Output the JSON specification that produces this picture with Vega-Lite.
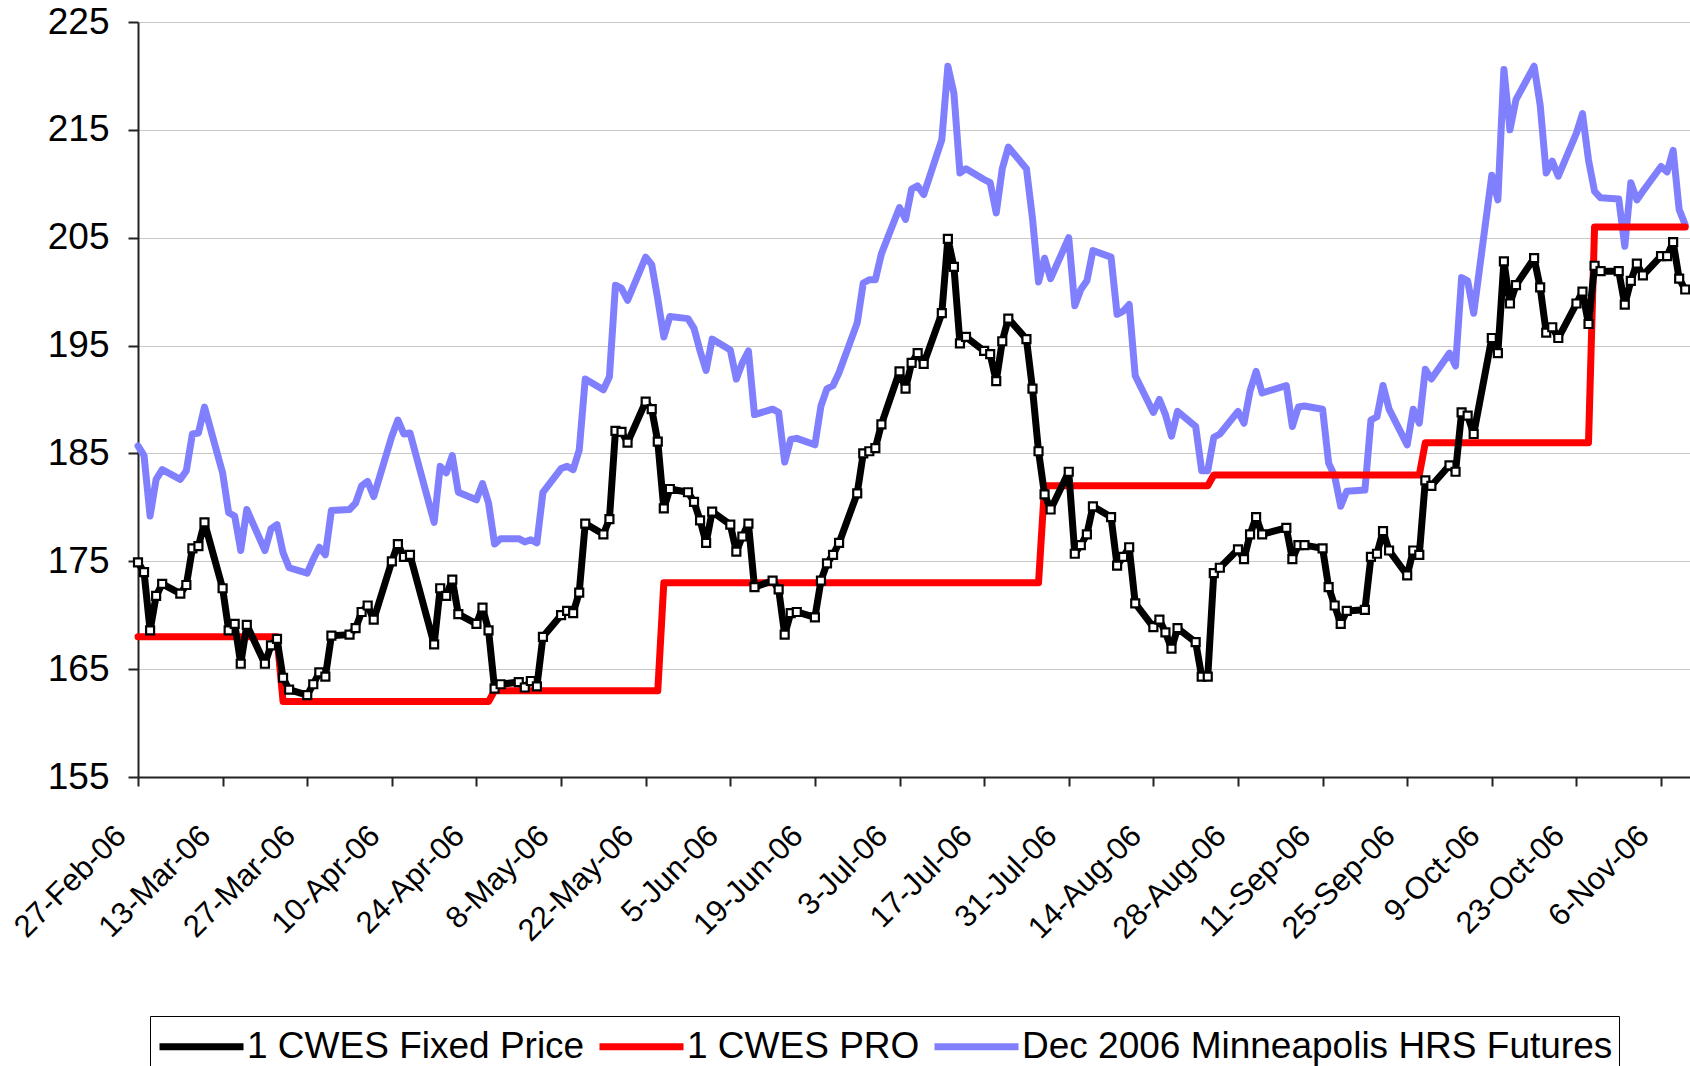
{
"$schema":"https://vega.github.io/schema/vega-lite/v6.json",
"width":1552,"height":755,
"autosize":{"type":"none"},
"padding":{"left":138,"top":22,"right":0,"bottom":289},
"background":"white",
"config":{"view":{"stroke":null},"font":"Liberation Sans"},
"data":{"values":[
{"d":"2006-02-27","fixed":174.9,"pro":168,"futures":185.7},
{"d":"2006-02-28","fixed":174.0,"pro":168,"futures":184.8},
{"d":"2006-03-01","fixed":168.6,"pro":168,"futures":179.2},
{"d":"2006-03-02","fixed":171.8,"pro":168,"futures":182.6},
{"d":"2006-03-03","fixed":172.9,"pro":168,"futures":183.5},
{"d":"2006-03-06","fixed":172.0,"pro":168,"futures":182.6},
{"d":"2006-03-07","fixed":172.8,"pro":168,"futures":183.4},
{"d":"2006-03-08","fixed":176.2,"pro":168,"futures":186.8},
{"d":"2006-03-09","fixed":176.4,"pro":168,"futures":186.9},
{"d":"2006-03-10","fixed":178.6,"pro":168,"futures":189.3},
{"d":"2006-03-13","fixed":172.5,"pro":168,"futures":183.2},
{"d":"2006-03-14","fixed":168.6,"pro":168,"futures":179.5},
{"d":"2006-03-15","fixed":169.2,"pro":168,"futures":179.2},
{"d":"2006-03-16","fixed":165.5,"pro":168,"futures":176.0},
{"d":"2006-03-17","fixed":169.1,"pro":168,"futures":179.8},
{"d":"2006-03-20","fixed":165.5,"pro":168,"futures":176.0},
{"d":"2006-03-21","fixed":167.2,"pro":168,"futures":178.0},
{"d":"2006-03-22","fixed":167.8,"pro":168,"futures":178.4},
{"d":"2006-03-23","fixed":164.2,"pro":162,"futures":175.8},
{"d":"2006-03-24","fixed":163.1,"pro":162,"futures":174.4},
{"d":"2006-03-27","fixed":162.6,"pro":162,"futures":173.9},
{"d":"2006-03-28","fixed":163.6,"pro":162,"futures":175.2},
{"d":"2006-03-29","fixed":164.7,"pro":162,"futures":176.3},
{"d":"2006-03-30","fixed":164.3,"pro":162,"futures":175.6},
{"d":"2006-03-31","fixed":168.1,"pro":162,"futures":179.7},
{"d":"2006-04-03","fixed":168.2,"pro":162,"futures":179.8},
{"d":"2006-04-04","fixed":168.8,"pro":162,"futures":180.4},
{"d":"2006-04-05","fixed":170.3,"pro":162,"futures":182.0},
{"d":"2006-04-06","fixed":170.9,"pro":162,"futures":182.4},
{"d":"2006-04-07","fixed":169.6,"pro":162,"futures":181.0},
{"d":"2006-04-10","fixed":175.0,"pro":162,"futures":186.6},
{"d":"2006-04-11","fixed":176.6,"pro":162,"futures":188.1},
{"d":"2006-04-12","fixed":175.4,"pro":162,"futures":186.8},
{"d":"2006-04-13","fixed":175.6,"pro":162,"futures":186.9},
{"d":"2006-04-17","fixed":167.3,"pro":162,"futures":178.6},
{"d":"2006-04-18","fixed":172.5,"pro":162,"futures":183.8},
{"d":"2006-04-19","fixed":171.8,"pro":162,"futures":183.2},
{"d":"2006-04-20","fixed":173.3,"pro":162,"futures":184.8},
{"d":"2006-04-21","fixed":170.1,"pro":162,"futures":181.4},
{"d":"2006-04-24","fixed":169.2,"pro":162,"futures":180.7},
{"d":"2006-04-25","fixed":170.7,"pro":162,"futures":182.2},
{"d":"2006-04-26","fixed":168.6,"pro":162,"futures":180.4},
{"d":"2006-04-27","fixed":163.2,"pro":163,"futures":176.6},
{"d":"2006-04-28","fixed":163.6,"pro":163,"futures":177.1},
{"d":"2006-05-01","fixed":163.8,"pro":163,"futures":177.1},
{"d":"2006-05-02","fixed":163.3,"pro":163,"futures":176.8},
{"d":"2006-05-03","fixed":163.9,"pro":163,"futures":177.0},
{"d":"2006-05-04","fixed":163.4,"pro":163,"futures":176.7},
{"d":"2006-05-05","fixed":168.0,"pro":163,"futures":181.4},
{"d":"2006-05-08","fixed":170.0,"pro":163,"futures":183.6},
{"d":"2006-05-09","fixed":170.4,"pro":163,"futures":183.8},
{"d":"2006-05-10","fixed":170.2,"pro":163,"futures":183.5},
{"d":"2006-05-11","fixed":172.1,"pro":163,"futures":185.3},
{"d":"2006-05-12","fixed":178.5,"pro":163,"futures":191.9},
{"d":"2006-05-15","fixed":177.5,"pro":163,"futures":190.9},
{"d":"2006-05-16","fixed":178.9,"pro":163,"futures":192.1},
{"d":"2006-05-17","fixed":187.1,"pro":163,"futures":200.6},
{"d":"2006-05-18","fixed":187.0,"pro":163,"futures":200.3},
{"d":"2006-05-19","fixed":186.0,"pro":163,"futures":199.2},
{"d":"2006-05-22","fixed":189.8,"pro":163,"futures":203.2},
{"d":"2006-05-23","fixed":189.1,"pro":163,"futures":202.5},
{"d":"2006-05-24","fixed":186.1,"pro":163,"futures":199.3},
{"d":"2006-05-25","fixed":179.9,"pro":173,"futures":195.8},
{"d":"2006-05-26","fixed":181.7,"pro":173,"futures":197.7},
{"d":"2006-05-29","fixed":181.4,"pro":173,"futures":197.5},
{"d":"2006-05-30","fixed":180.5,"pro":173,"futures":196.6},
{"d":"2006-05-31","fixed":178.8,"pro":173,"futures":194.5},
{"d":"2006-06-01","fixed":176.7,"pro":173,"futures":192.7},
{"d":"2006-06-02","fixed":179.6,"pro":173,"futures":195.6},
{"d":"2006-06-05","fixed":178.4,"pro":173,"futures":194.6},
{"d":"2006-06-06","fixed":175.9,"pro":173,"futures":191.9},
{"d":"2006-06-07","fixed":177.3,"pro":173,"futures":193.4},
{"d":"2006-06-08","fixed":178.5,"pro":173,"futures":194.5},
{"d":"2006-06-09","fixed":172.6,"pro":173,"futures":188.6},
{"d":"2006-06-12","fixed":173.2,"pro":173,"futures":189.1},
{"d":"2006-06-13","fixed":172.4,"pro":173,"futures":188.8},
{"d":"2006-06-14","fixed":168.2,"pro":173,"futures":184.2},
{"d":"2006-06-15","fixed":170.2,"pro":173,"futures":186.3},
{"d":"2006-06-16","fixed":170.3,"pro":173,"futures":186.4},
{"d":"2006-06-19","fixed":169.8,"pro":173,"futures":185.8},
{"d":"2006-06-20","fixed":173.2,"pro":173,"futures":189.4},
{"d":"2006-06-21","fixed":174.8,"pro":173,"futures":191.0},
{"d":"2006-06-22","fixed":175.6,"pro":173,"futures":191.3},
{"d":"2006-06-23","fixed":176.7,"pro":173,"futures":192.5},
{"d":"2006-06-26","fixed":181.3,"pro":173,"futures":197.1},
{"d":"2006-06-27","fixed":185.0,"pro":173,"futures":200.8},
{"d":"2006-06-28","fixed":185.2,"pro":173,"futures":201.1},
{"d":"2006-06-29","fixed":185.5,"pro":173,"futures":201.1},
{"d":"2006-06-30","fixed":187.7,"pro":173,"futures":203.5},
{"d":"2006-07-03","fixed":192.6,"pro":173,"futures":207.8},
{"d":"2006-07-04","fixed":191.0,"pro":173,"futures":206.7},
{"d":"2006-07-05","fixed":193.4,"pro":173,"futures":209.5},
{"d":"2006-07-06","fixed":194.3,"pro":173,"futures":209.8},
{"d":"2006-07-07","fixed":193.3,"pro":173,"futures":209.0},
{"d":"2006-07-10","fixed":198.0,"pro":173,"futures":214.1},
{"d":"2006-07-11","fixed":204.9,"pro":173,"futures":220.9},
{"d":"2006-07-12","fixed":202.3,"pro":173,"futures":218.4},
{"d":"2006-07-13","fixed":195.2,"pro":173,"futures":211.0},
{"d":"2006-07-14","fixed":195.8,"pro":173,"futures":211.4},
{"d":"2006-07-17","fixed":194.5,"pro":173,"futures":210.4},
{"d":"2006-07-18","fixed":194.2,"pro":173,"futures":210.1},
{"d":"2006-07-19","fixed":191.7,"pro":173,"futures":207.3},
{"d":"2006-07-20","fixed":195.4,"pro":173,"futures":211.4},
{"d":"2006-07-21","fixed":197.5,"pro":173,"futures":213.4},
{"d":"2006-07-24","fixed":195.6,"pro":173,"futures":211.4},
{"d":"2006-07-25","fixed":191.0,"pro":173,"futures":206.8},
{"d":"2006-07-26","fixed":185.2,"pro":173,"futures":200.9},
{"d":"2006-07-27","fixed":181.2,"pro":182,"futures":203.1},
{"d":"2006-07-28","fixed":179.8,"pro":182,"futures":201.2},
{"d":"2006-07-31","fixed":183.3,"pro":182,"futures":205.0},
{"d":"2006-08-01","fixed":175.7,"pro":182,"futures":198.7},
{"d":"2006-08-02","fixed":176.5,"pro":182,"futures":200.2},
{"d":"2006-08-03","fixed":177.5,"pro":182,"futures":201.0},
{"d":"2006-08-04","fixed":180.1,"pro":182,"futures":203.8},
{"d":"2006-08-07","fixed":179.1,"pro":182,"futures":203.2},
{"d":"2006-08-08","fixed":174.6,"pro":182,"futures":197.9},
{"d":"2006-08-09","fixed":175.4,"pro":182,"futures":198.2},
{"d":"2006-08-10","fixed":176.3,"pro":182,"futures":198.8},
{"d":"2006-08-11","fixed":171.1,"pro":182,"futures":192.2},
{"d":"2006-08-14","fixed":168.9,"pro":182,"futures":188.8},
{"d":"2006-08-15","fixed":169.6,"pro":182,"futures":190.0},
{"d":"2006-08-16","fixed":168.4,"pro":182,"futures":188.6},
{"d":"2006-08-17","fixed":166.9,"pro":182,"futures":186.6},
{"d":"2006-08-18","fixed":168.8,"pro":182,"futures":188.9},
{"d":"2006-08-21","fixed":167.5,"pro":182,"futures":187.5},
{"d":"2006-08-22","fixed":164.3,"pro":182,"futures":183.4},
{"d":"2006-08-23","fixed":164.3,"pro":182,"futures":183.4},
{"d":"2006-08-24","fixed":173.9,"pro":183,"futures":186.5},
{"d":"2006-08-25","fixed":174.4,"pro":183,"futures":186.8},
{"d":"2006-08-28","fixed":176.1,"pro":183,"futures":188.9},
{"d":"2006-08-29","fixed":175.2,"pro":183,"futures":187.8},
{"d":"2006-08-30","fixed":177.5,"pro":183,"futures":190.8},
{"d":"2006-08-31","fixed":179.1,"pro":183,"futures":192.6},
{"d":"2006-09-01","fixed":177.5,"pro":183,"futures":190.6},
{"d":"2006-09-05","fixed":178.1,"pro":183,"futures":191.3},
{"d":"2006-09-06","fixed":175.2,"pro":183,"futures":187.5},
{"d":"2006-09-07","fixed":176.5,"pro":183,"futures":189.3},
{"d":"2006-09-08","fixed":176.5,"pro":183,"futures":189.4},
{"d":"2006-09-11","fixed":176.2,"pro":183,"futures":189.1},
{"d":"2006-09-12","fixed":172.6,"pro":183,"futures":184.1},
{"d":"2006-09-13","fixed":170.9,"pro":183,"futures":182.9},
{"d":"2006-09-14","fixed":169.2,"pro":183,"futures":180.1},
{"d":"2006-09-15","fixed":170.4,"pro":183,"futures":181.5},
{"d":"2006-09-18","fixed":170.5,"pro":183,"futures":181.6},
{"d":"2006-09-19","fixed":175.4,"pro":183,"futures":188.1},
{"d":"2006-09-20","fixed":175.7,"pro":183,"futures":188.4},
{"d":"2006-09-21","fixed":177.8,"pro":183,"futures":191.3},
{"d":"2006-09-22","fixed":176.0,"pro":183,"futures":189.1},
{"d":"2006-09-25","fixed":173.7,"pro":183,"futures":185.8},
{"d":"2006-09-26","fixed":176.0,"pro":183,"futures":189.1},
{"d":"2006-09-27","fixed":175.6,"pro":183,"futures":187.8},
{"d":"2006-09-28","fixed":182.5,"pro":186,"futures":192.8},
{"d":"2006-09-29","fixed":182.0,"pro":186,"futures":191.9},
{"d":"2006-10-02","fixed":183.9,"pro":186,"futures":194.3},
{"d":"2006-10-03","fixed":183.3,"pro":186,"futures":193.1},
{"d":"2006-10-04","fixed":188.8,"pro":186,"futures":201.3},
{"d":"2006-10-05","fixed":188.5,"pro":186,"futures":201.0},
{"d":"2006-10-06","fixed":186.8,"pro":186,"futures":198.0},
{"d":"2006-10-09","fixed":195.7,"pro":186,"futures":210.8},
{"d":"2006-10-10","fixed":194.3,"pro":186,"futures":208.5},
{"d":"2006-10-11","fixed":202.8,"pro":186,"futures":220.6},
{"d":"2006-10-12","fixed":198.9,"pro":186,"futures":215.0},
{"d":"2006-10-13","fixed":200.6,"pro":186,"futures":217.8},
{"d":"2006-10-16","fixed":203.1,"pro":186,"futures":220.9},
{"d":"2006-10-17","fixed":200.4,"pro":186,"futures":217.3},
{"d":"2006-10-18","fixed":196.2,"pro":186,"futures":211.0},
{"d":"2006-10-19","fixed":196.7,"pro":186,"futures":212.1},
{"d":"2006-10-20","fixed":195.7,"pro":186,"futures":210.7},
{"d":"2006-10-23","fixed":198.9,"pro":186,"futures":214.7},
{"d":"2006-10-24","fixed":200.0,"pro":186,"futures":216.5},
{"d":"2006-10-25","fixed":197.0,"pro":186,"futures":212.2},
{"d":"2006-10-26","fixed":202.4,"pro":206,"futures":209.3},
{"d":"2006-10-27","fixed":201.9,"pro":206,"futures":208.7},
{"d":"2006-10-30","fixed":201.9,"pro":206,"futures":208.6},
{"d":"2006-10-31","fixed":198.8,"pro":206,"futures":204.2},
{"d":"2006-11-01","fixed":201.0,"pro":206,"futures":210.1},
{"d":"2006-11-02","fixed":202.6,"pro":206,"futures":208.5},
{"d":"2006-11-03","fixed":201.5,"pro":206,"futures":209.3},
{"d":"2006-11-06","fixed":203.3,"pro":206,"futures":211.6},
{"d":"2006-11-07","fixed":203.3,"pro":206,"futures":211.1},
{"d":"2006-11-08","fixed":204.6,"pro":206,"futures":213.1},
{"d":"2006-11-09","fixed":201.2,"pro":206,"futures":207.6},
{"d":"2006-11-10","fixed":200.2,"pro":206,"futures":206.2}
]},
"transform":[{"fold":["fixed","pro","futures"],"as":["series","value"]}],
"encoding":{
"x":{"field":"d","type":"temporal",
"scale":{"type":"utc","domain":[{"year":2006,"month":2,"date":27,"utc":true},{"year":2006,"month":11,"date":10,"hours":19,"utc":true}]},
"axis":{"title":null,"values":[
{"year":2006,"month":2,"date":27,"utc":true},{"year":2006,"month":3,"date":13,"utc":true},{"year":2006,"month":3,"date":27,"utc":true},
{"year":2006,"month":4,"date":10,"utc":true},{"year":2006,"month":4,"date":24,"utc":true},{"year":2006,"month":5,"date":8,"utc":true},
{"year":2006,"month":5,"date":22,"utc":true},{"year":2006,"month":6,"date":5,"utc":true},{"year":2006,"month":6,"date":19,"utc":true},
{"year":2006,"month":7,"date":3,"utc":true},{"year":2006,"month":7,"date":17,"utc":true},{"year":2006,"month":7,"date":31,"utc":true},
{"year":2006,"month":8,"date":14,"utc":true},{"year":2006,"month":8,"date":28,"utc":true},{"year":2006,"month":9,"date":11,"utc":true},
{"year":2006,"month":9,"date":25,"utc":true},{"year":2006,"month":10,"date":9,"utc":true},{"year":2006,"month":10,"date":23,"utc":true},
{"year":2006,"month":11,"date":6,"utc":true}],
"format":"%-d-%b-%y","labelAngle":-45,"labelAlign":"right","labelBaseline":"middle","labelFontSize":31,"labelColor":"#000",
"labelPadding":45,"labelOffset":-17,"tickSize":9,"tickWidth":2,"tickColor":"#222","domainColor":"#222","domainWidth":2,"grid":false,
"labelOverlap":false,"labelFlush":false,"labelBound":false}},
"y":{"field":"value","type":"quantitative","scale":{"domain":[155,225],"nice":false,"zero":false},
"axis":{"title":null,"values":[155,165,175,185,195,205,215,225],"labelFontSize":37,"labelColor":"#000","labelPadding":19,
"tickSize":10,"tickWidth":2,"tickColor":"#222","domainColor":"#222","domainWidth":2,"grid":true,"gridColor":"#c8c8c8","gridWidth":1.2,"labelFlush":false}}
},
"layer":[
{"transform":[{"filter":"datum.series == 'futures'"}],
 "mark":{"type":"line","strokeWidth":7,"strokeJoin":"round","strokeCap":"round"},
 "encoding":{"color":{"field":"series","type":"nominal","scale":{"domain":["fixed","pro","futures"],"range":["#000000","#ff0000","#8080ff"]},
 "legend":{"orient":"none","legendX":12,"legendY":994,"direction":"horizontal","columns":3,"title":null,
 "symbolType":"M-2,0H2","symbolSize":1764,"symbolStrokeWidth":7,"symbolOffset":21,"labelOffset":21,
 "labelFontSize":37,"labelFont":"Liberation Sans","labelColor":"#000","labelLimit":0,"columnPadding":0,"padding":6,
 "strokeColor":"#000","fillColor":"#fff",
 "labelExpr":"datum.value == 'fixed' ? '1 CWES Fixed Price' : datum.value == 'pro' ? '1 CWES PRO' : 'Dec 2006 Minneapolis HRS Futures'"}}}},
{"transform":[{"filter":"datum.series == 'pro'"}],
 "mark":{"type":"line","strokeWidth":7,"strokeJoin":"round","strokeCap":"round"},
 "encoding":{"color":{"field":"series","type":"nominal"}}},
{"transform":[{"filter":"datum.series == 'fixed'"}],
 "mark":{"type":"line","strokeWidth":7,"strokeJoin":"round","strokeCap":"round"},
 "encoding":{"color":{"field":"series","type":"nominal"}}},
{"transform":[{"filter":"datum.series == 'fixed'"}],
 "mark":{"type":"point","shape":"square","filled":true,"fill":"#ffffff","stroke":"#000000","strokeWidth":2.2,"size":64,"opacity":1}}
]
}
